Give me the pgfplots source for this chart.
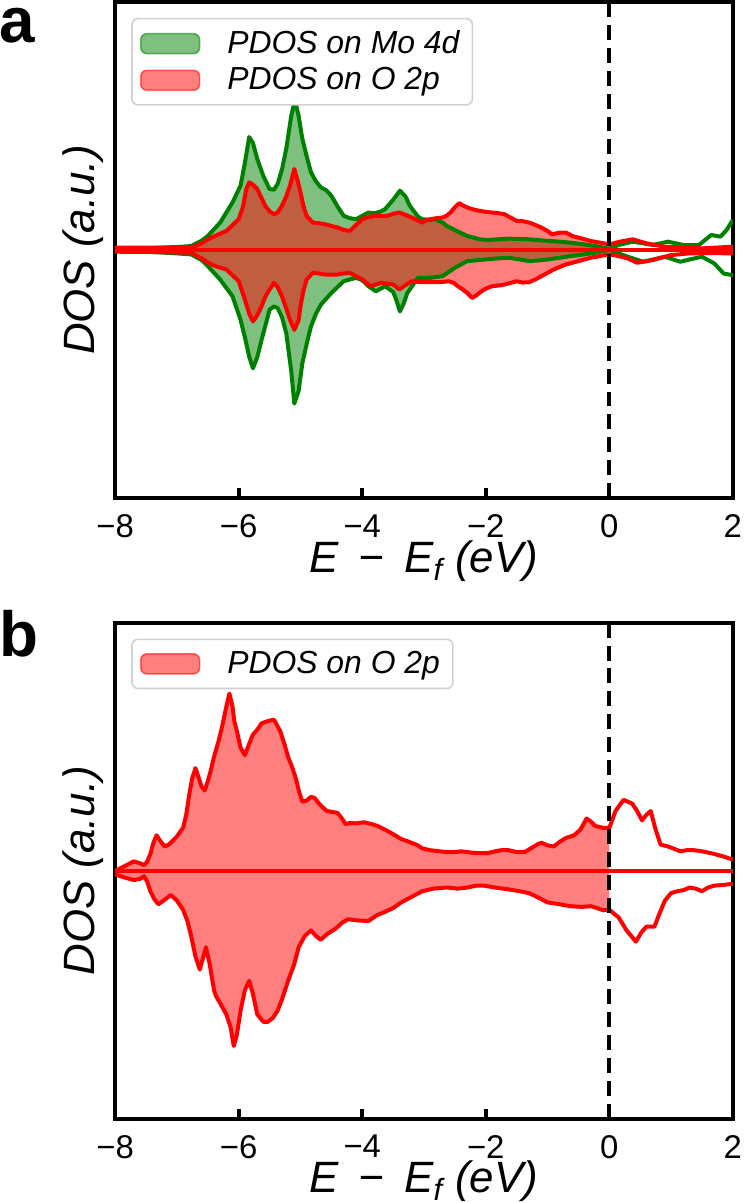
\documentclass[border=0pt]{standalone}
\usepackage{fontspec}
\setmainfont{Liberation Sans}
\usepackage{pgfplots}
\pgfplotsset{compat=1.18}
\usepackage{pgfplotstable}
\usepgfplotslibrary{fillbetween}
\definecolor{mplgreen}{RGB}{0,128,0}
\definecolor{mplred}{RGB}{255,0,0}

% ---------- panel a : Mo 4d (spin up / down) ----------
\pgfplotstableread{
x y
-8 0
-7.6 3
-7.3 7
-7.0 9
-6.77 12
-6.6 28
-6.5 42
-6.3 82
-6.1 142
-5.97 192
-5.9 260
-5.83 337
-5.77 320
-5.7 272
-5.6 220
-5.5 182
-5.43 180
-5.37 197
-5.3 240
-5.23 302
-5.15 400
-5.09 447
-5.03 400
-4.97 332
-4.9 280
-4.83 232
-4.75 205
-4.67 187
-4.58 178
-4.5 162
-4.4 130
-4.3 102
-4.2 95
-4.1 92
-4.0 102
-3.9 112
-3.8 110
-3.7 115
-3.63 122
-3.5 150
-3.39 177
-3.3 160
-3.23 132
-3.1 100
-3.03 92
-2.9 90
-2.83 92
-2.7 82
-2.63 72
-2.45 55
-2.3 42
-2.1 32
-1.97 30
-1.8 32
-1.63 34
-1.45 33
-1.3 32
-1.1 29
-0.97 27
-0.8 25
-0.63 22
-0.45 18
-0.3 14
-0.15 9
0 4
0.15 15
0.38 25
0.55 20
0.7 15
0.95 25
1.2 15
1.45 15
1.65 45
1.8 40
1.9 60
2.0 90
}\tGU
\pgfplotstableread{
x y
-8 0
-7.6 -3
-7.3 -7
-7.0 -10
-6.77 -13
-6.6 -30
-6.5 -48
-6.3 -88
-6.1 -138
-5.97 -208
-5.9 -260
-5.83 -318
-5.77 -353
-5.7 -320
-5.63 -268
-5.5 -178
-5.43 -168
-5.37 -173
-5.3 -200
-5.23 -248
-5.15 -360
-5.1 -458
-5.03 -420
-4.97 -338
-4.9 -280
-4.83 -228
-4.75 -190
-4.67 -163
-4.5 -128
-4.3 -93
-4.1 -83
-4.0 -90
-3.9 -108
-3.78 -123
-3.63 -108
-3.5 -125
-3.45 -148
-3.39 -183
-3.33 -160
-3.27 -128
-3.1 -83
-2.9 -83
-2.7 -78
-2.5 -53
-2.3 -33
-2.0 -28
-1.8 -25
-1.63 -23
-1.45 -28
-1.3 -33
-1.15 -31
-1.0 -28
-0.8 -23
-0.63 -18
-0.45 -14
-0.3 -10
-0.15 -5
0 0
0.15 -10
0.3 -20
0.55 -35
0.9 -20
1.15 -35
1.3 -28
1.5 -20
1.7 -40
1.85 -70
2.0 -75
}\tGD
% ---------- panel a : O 2p ----------
\pgfplotstableread{
x y
-8 7
-7.3 7
-6.77 7
-6.6 20
-6.5 32
-6.35 45
-6.2 57
-6.0 92
-5.93 130
-5.88 180
-5.83 202
-5.77 195
-5.7 182
-5.63 155
-5.57 132
-5.5 115
-5.43 107
-5.37 112
-5.3 132
-5.23 160
-5.17 192
-5.1 242
-5.05 210
-5.0 172
-4.95 130
-4.9 102
-4.8 82
-4.7 80
-4.6 77
-4.5 72
-4.4 67
-4.3 60
-4.2 57
-4.1 75
-4.0 92
-3.9 98
-3.8 102
-3.7 101
-3.6 102
-3.5 108
-3.4 112
-3.3 105
-3.2 97
-3.1 88
-3.03 82
-2.95 90
-2.9 92
-2.8 95
-2.7 97
-2.63 103
-2.57 112
-2.5 128
-2.43 140
-2.37 133
-2.3 127
-2.2 121
-2.1 117
-2.0 114
-1.9 112
-1.8 110
-1.7 107
-1.6 97
-1.5 87
-1.4 86
-1.3 82
-1.2 75
-1.1 67
-1.0 57
-0.93 47
-0.8 52
-0.7 52
-0.6 42
-0.5 37
-0.4 32
-0.3 27
-0.15 22
0 17
0.2 26
0.38 32
0.6 20
0.9 10
1.2 8
1.5 5
1.8 8
2.0 10
}\tRU
\pgfplotstableread{
x y
-8 -5
-7.3 -6
-6.77 -8
-6.6 -25
-6.5 -38
-6.35 -50
-6.2 -58
-6.0 -93
-5.9 -148
-5.83 -190
-5.77 -213
-5.7 -195
-5.63 -168
-5.57 -140
-5.5 -118
-5.43 -98
-5.37 -110
-5.3 -138
-5.23 -175
-5.17 -208
-5.1 -238
-5.03 -210
-5.0 -168
-4.95 -120
-4.9 -88
-4.8 -68
-4.7 -70
-4.6 -73
-4.5 -73
-4.4 -73
-4.3 -70
-4.2 -68
-4.1 -78
-4.0 -88
-3.92 -100
-3.85 -108
-3.78 -103
-3.7 -98
-3.6 -100
-3.5 -103
-3.45 -110
-3.4 -118
-3.3 -105
-3.2 -93
-3.1 -95
-3.03 -96
-2.9 -96
-2.8 -96
-2.7 -95
-2.6 -93
-2.52 -98
-2.45 -108
-2.37 -118
-2.3 -128
-2.22 -143
-2.15 -135
-2.07 -123
-2.0 -115
-1.9 -108
-1.8 -106
-1.7 -103
-1.6 -98
-1.5 -93
-1.4 -97
-1.3 -96
-1.2 -88
-1.1 -78
-1.0 -68
-0.9 -58
-0.8 -50
-0.7 -43
-0.6 -38
-0.5 -33
-0.4 -28
-0.3 -23
-0.15 -18
0 -13
0.15 -18
0.3 -25
0.45 -38
0.7 -30
1.0 -15
1.3 -10
1.6 -9
2.0 -10
}\tRD
% ---------- panel b : O 2p ----------
\pgfplotstableread{
x y
-8 0
-7.85 12
-7.7 25
-7.6 20
-7.53 15
-7.48 25
-7.43 45
-7.38 75
-7.33 95
-7.27 80
-7.2 65
-7.13 70
-7.07 80
-7.0 92
-6.9 115
-6.85 150
-6.8 205
-6.75 250
-6.7 275
-6.65 250
-6.6 225
-6.55 215
-6.5 240
-6.45 270
-6.4 305
-6.33 345
-6.27 385
-6.2 440
-6.15 475
-6.1 440
-6.07 400
-6.03 375
-5.97 330
-5.9 310
-5.83 340
-5.77 365
-5.7 378
-5.63 395
-5.55 400
-5.43 405
-5.38 390
-5.33 375
-5.27 345
-5.2 305
-5.13 275
-5.07 245
-5.02 210
-4.97 185
-4.9 188
-4.83 198
-4.77 195
-4.7 180
-4.63 168
-4.57 160
-4.5 158
-4.4 155
-4.33 140
-4.27 125
-4.2 128
-4.1 127
-3.97 130
-3.85 125
-3.75 120
-3.63 110
-3.5 98
-3.37 85
-3.25 78
-3.1 68
-3.03 60
-2.9 55
-2.75 52
-2.63 50
-2.5 50
-2.4 52
-2.3 50
-2.2 48
-2.1 47
-1.97 47
-1.85 52
-1.75 55
-1.63 55
-1.5 50
-1.37 50
-1.25 62
-1.15 72
-1.1 75
-1.0 68
-0.9 65
-0.8 78
-0.7 88
-0.57 95
-0.47 110
-0.4 130
-0.37 140
-0.3 132
-0.23 120
-0.1 115
0 115
0.1 160
0.23 190
0.37 180
0.45 160
0.53 135
0.6 150
0.67 160
0.75 110
0.83 70
0.95 65
1.03 60
1.15 52
1.25 55
1.37 55
1.5 52
1.7 45
1.85 38
2.0 30
}\tBU
\pgfplotstableread{
x y
-8 -10
-7.85 -18
-7.7 -25
-7.6 -22
-7.53 -15
-7.48 -30
-7.43 -55
-7.37 -75
-7.3 -90
-7.2 -78
-7.1 -65
-7.0 -80
-6.9 -105
-6.83 -135
-6.77 -175
-6.7 -230
-6.63 -265
-6.58 -235
-6.53 -205
-6.47 -250
-6.4 -320
-6.37 -335
-6.3 -355
-6.2 -385
-6.13 -420
-6.08 -470
-6.03 -440
-5.97 -375
-5.9 -320
-5.83 -295
-5.77 -330
-5.7 -385
-5.6 -405
-5.53 -405
-5.45 -395
-5.37 -375
-5.3 -345
-5.2 -295
-5.1 -250
-5.03 -205
-4.93 -175
-4.83 -160
-4.75 -175
-4.67 -185
-4.57 -170
-4.43 -155
-4.33 -140
-4.23 -130
-4.1 -133
-3.9 -135
-3.77 -120
-3.63 -110
-3.5 -100
-3.37 -85
-3.2 -70
-3.03 -55
-2.85 -48
-2.63 -45
-2.45 -48
-2.3 -45
-2.15 -40
-2.03 -40
-1.85 -45
-1.63 -50
-1.45 -55
-1.3 -60
-1.15 -72
-1.0 -85
-0.8 -90
-0.63 -95
-0.45 -97
-0.3 -95
-0.2 -100
-0.1 -106
0 -105
0.15 -125
0.28 -160
0.43 -190
0.52 -165
0.6 -150
0.73 -150
0.8 -120
0.9 -80
1.0 -60
1.1 -55
1.2 -52
1.3 -45
1.4 -48
1.5 -55
1.6 -45
1.7 -40
1.85 -38
2.0 -35
}\tBD

\pgfplotsset{
  dosaxis/.style={
    width=310pt, height=249pt, scale only axis,
    xmin=-8, xmax=2,
    xtick={-8,-6,-4,-2,0,2},
    xticklabels={−8,−6,−4,−2,0,2},
    ytick=\empty,
    xtick pos=left, tick align=inside,
    major tick length=5pt,
    every tick/.style={black, line width=2pt},
    axis line style={line width=2pt},
    ticklabel style={font=\fontsize{16.5}{18}\selectfont},
    xticklabel style={inner sep=1pt, yshift=-7pt},
    xlabel={E\hspace{0.45em}−\hspace{0.45em}E\textsubscript{f} (eV)},
    ylabel={DOS (a.u.)},
    label style={font=\fontsize{22}{26}\selectfont\itshape, inner sep=0pt},
    xlabel style={at={(axis description cs:0.5,0)}, anchor=center, yshift=-31.5pt},
    ylabel style={at={(axis description cs:-0.052,0.5)}, anchor=center},
    legend cell align=left,
    legend style={at={(0.026,0.968)}, anchor=north west,
      draw=black!18, line width=0.8pt, rounded corners=3pt,
      font=\fontsize{16}{18}\selectfont\itshape,
      inner xsep=4pt, inner ysep=3.5pt, row sep=0.5pt,
      nodes={inner sep=2.5pt},
      /tikz/every odd column/.append style={column sep=11pt}},
  },
  curve/.style={line width=2pt, line join=round},
}

\begin{document}
\begin{tikzpicture}
% ================= panel a =================
\begin{axis}[dosaxis, name=pa, at={(0,311.5pt)}, ymin=-740, ymax=740]
\addplot[draw=none, name path=gu, forget plot] table {\tGU};
\addplot[draw=none, name path=gd, forget plot] table {\tGD};
\addplot[draw=none, name path=ru, forget plot] table {\tRU};
\addplot[draw=none, name path=rd, forget plot] table {\tRD};
\addplot[fill=mplgreen, fill opacity=0.5, draw=none,
  legend image code/.code={\draw[fill=mplgreen, fill opacity=0.5, draw=mplgreen, draw opacity=0.55, line width=0.8pt] (0pt,-5pt) rectangle (29.5pt,5pt);}]
  fill between[of=gu and gd, soft clip={domain=-8:0}];
\addlegendentry{PDOS on Mo 4d}
\addplot[fill=mplred, fill opacity=0.5, draw=none,
  legend image code/.code={\draw[fill=mplred, fill opacity=0.5, draw=mplred, draw opacity=0.55, line width=0.8pt] (0pt,-5pt) rectangle (29.5pt,5pt);}]
  fill between[of=ru and rd, soft clip={domain=-8:0}];
\addlegendentry{PDOS on O 2p}
\addplot[curve, mplgreen, forget plot] table {\tGU};
\addplot[curve, mplgreen, forget plot] table {\tGD};
\addplot[curve, mplred, forget plot] table {\tRU};
\addplot[curve, mplred, forget plot] table {\tRD};
\addplot[mplred, line width=2.2pt, forget plot] coordinates {(-8,0) (2,0)};
\addplot[black, line width=2pt, dash pattern=on 7.5pt off 4pt, forget plot] coordinates {(0,-740) (0,740)};
\end{axis}
\node[anchor=base west, font=\fontsize{32}{36}\selectfont\bfseries, inner sep=0pt]
  at ([xshift=-58pt, yshift=-20.5pt]pa.north west) {a};

% ================= panel b =================
\begin{axis}[dosaxis, name=pb, at={(0,0)}, ymin=-665, ymax=665]
\addplot[draw=none, name path=bu, forget plot] table {\tBU};
\addplot[draw=none, name path=bd, forget plot] table {\tBD};
\addplot[fill=mplred, fill opacity=0.5, draw=none,
  legend image code/.code={\draw[fill=mplred, fill opacity=0.5, draw=mplred, draw opacity=0.55, line width=0.8pt] (0pt,-5pt) rectangle (29.5pt,5pt);}]
  fill between[of=bu and bd, soft clip={domain=-8:0}];
\addlegendentry{PDOS on O 2p}
\addplot[curve, mplred, forget plot] table {\tBU};
\addplot[curve, mplred, forget plot] table {\tBD};
\addplot[mplred, line width=1.8pt, forget plot] coordinates {(-8,0) (2,0)};
\addplot[black, line width=2pt, dash pattern=on 7.5pt off 4pt, forget plot] coordinates {(0,-665) (0,665)};
\end{axis}
\node[anchor=base west, font=\fontsize{32}{36}\selectfont\bfseries, inner sep=0pt]
  at ([xshift=-58pt, yshift=-17pt]pb.north west) {b};
\end{tikzpicture}
\end{document}
